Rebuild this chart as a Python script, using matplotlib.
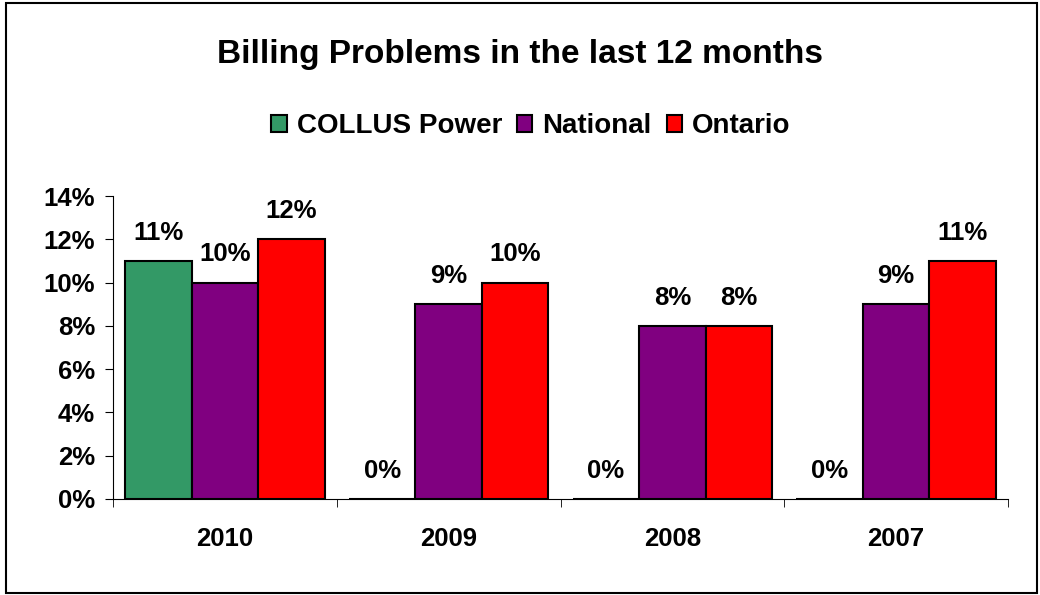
import matplotlib
matplotlib.use("Agg")
import matplotlib.pyplot as plt
import numpy as np
from matplotlib.patches import Rectangle

years = ["2010", "2009", "2008", "2007"]
series = ["COLLUS Power", "National", "Ontario"]
collus = [11, 0, 0, 0]
national = [10, 9, 8, 9]
ontario = [12, 10, 8, 11]
colors = ["#339966", "#800080", "#FF0000"]

plt.rcParams['font.family'] = ['Liberation Sans', 'DejaVu Sans']
plt.rcParams['font.weight'] = 'bold'

fig = plt.figure(figsize=(10.4, 5.95), dpi=100)
ax = fig.add_axes([113/1040, 1 - 499/595, (1008 - 113)/1040, (499 - 196)/595])

# outer chart frame
fig.patches.append(Rectangle((6/1040, 1 - 593/595), 1031/1040, 590/595,
                             transform=fig.transFigure, fill=False,
                             edgecolor='black', linewidth=1.5))

fs = 18.5
x = np.arange(len(years))
w = 0.297
for i, (name, vals) in enumerate(zip(series, [collus, national, ontario])):
    pos = x + (i - 1) * w
    ax.bar(pos, vals, w, color=colors[i], edgecolor='black',
           linewidth=1.5, label=name)
    for p, v in zip(pos, vals):
        ax.text(p, v + 0.75, f"{v}%", ha='center', va='bottom',
                fontsize=fs, fontweight='bold')

ax.set_xlim(-0.5, len(years) - 0.5)
ax.set_ylim(0, 14)
ax.set_yticks(range(0, 15, 2))
ax.set_yticklabels([f"{t}%" for t in range(0, 15, 2)], fontsize=fs, fontweight='bold')
ax.set_xticks(x)
ax.set_xticklabels(years, fontsize=fs, fontweight='bold')
ax.tick_params(axis='x', length=0, pad=20)
ax.tick_params(axis='y', length=6, direction='out', pad=7)
# category separator ticks
ax.set_xticks(np.arange(-0.5, len(years)), minor=True)
ax.tick_params(axis='x', which='minor', length=6, direction='out')
ax.spines['top'].set_visible(False)
ax.spines['right'].set_visible(False)

fig.text(0.5, 1 - 55/595, "Billing Problems in the last 12 months",
         ha='center', va='center', fontsize=24, fontweight='bold')
fig.legend(loc='center', bbox_to_anchor=(531/1040, 1 - 126/595), ncol=3,
           frameon=False, handlelength=0.55, handleheight=0.55,
           handletextpad=0.36, columnspacing=0.55, prop={'weight': 'bold', 'size': 20})

fig.savefig("out.png", dpi=100)
